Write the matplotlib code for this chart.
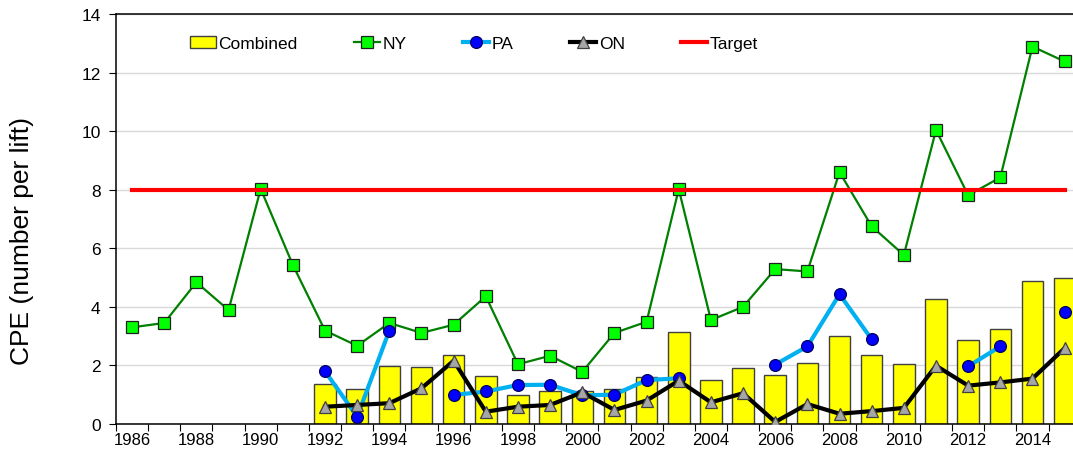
import matplotlib
matplotlib.use('Agg')
import matplotlib.pyplot as plt
import numpy as np

plt.rcParams['font.family'] = ['Liberation Sans', 'DejaVu Sans']

years = np.arange(1986, 2016)
nan = np.nan

combined = [nan, nan, nan, nan, nan, nan,
            1.37, 1.19, 1.99, 1.96, 2.34, 1.63, 1.00, 1.14, 1.13, 1.21,
            1.60, 3.13, 1.49, 1.90, 1.68, 2.07, 3.02, 2.37, 2.06, 4.26,
            2.86, 3.25, 4.88, 4.98]
ny = [3.30, 3.45, 4.84, 3.89, 8.03, 5.43, 3.19, 2.67, 3.45, 3.11,
      3.39, 4.36, 2.04, 2.33, 1.78, 3.11, 3.49, 8.02, 3.55, 4.00,
      5.29, 5.21, 8.60, 6.75, 5.77, 10.04, 7.81, 8.42, 12.89, 12.38]
pa = [nan, nan, nan, nan, nan, nan, 1.80, 0.25, 3.19, nan,
      0.99, 1.11, 1.33, 1.34, 0.98, 1.00, 1.50, 1.56, nan, nan,
      2.03, 2.65, 4.43, 2.89, nan, nan, 1.97, 2.65, nan, 3.83]
on = [nan, nan, nan, nan, nan, nan, 0.59, 0.65, 0.71, 1.22,
      2.16, 0.42, 0.59, 0.65, 1.08, 0.48, 0.80, 1.48, 0.74, 1.05,
      0.07, 0.68, 0.35, 0.44, 0.55, 1.99, 1.31, 1.42, 1.55, 2.59]
target = [8.0] * len(years)

fig = plt.figure(figsize=(10.73, 4.56), dpi=100)
ax = fig.add_axes([0.1081, 0.068, 0.8919, 0.899])

b = ax.bar(years, combined, 0.67, color='#ffff00', edgecolor='#404040',
           linewidth=1.0, label='Combined', zorder=2)
l1, = ax.plot(years, ny, color='#008000', lw=1.6, marker='s', ms=8,
              mfc='#00ff00', mec='#202020', mew=0.9, label='NY', zorder=3)
l2, = ax.plot(years, pa, color='#00b0f0', lw=3, marker='o', ms=8.5,
              mfc='#0000ff', mec='#000060', mew=0.9, label='PA', zorder=4)
l3, = ax.plot(years, on, color='black', lw=3, marker='^', ms=9,
              mfc='#a6a6a6', mec='#404040', mew=0.9, label='ON', zorder=5)
l4, = ax.plot(years, target, color='#ff0000', lw=3, label='Target', zorder=6)

ax.set_xlim(1985.5, 2015.26)
ax.set_ylim(0, 14)
ax.set_yticks(np.arange(0, 15, 2))
ax.yaxis.grid(True, color='#d9d9d9', lw=1, zorder=0)
ax.set_axisbelow(True)

# year boundaries get tick marks, labels sit at the centres
ax.set_xticks(np.arange(1985.5, 2015.5, 1))
ax.set_xticklabels([])
ax.set_xticks(np.arange(1986, 2016, 2), minor=True)
ax.set_xticklabels([str(y) for y in range(1986, 2016, 2)], minor=True)
ax.tick_params(axis='x', which='major', length=5, direction='out')
ax.tick_params(axis='x', which='minor', length=0, pad=6, labelsize=12)
ax.tick_params(axis='y', length=5, direction='out', labelsize=12.5, pad=6)

ax.spines['right'].set_visible(False)
for s in ['left', 'bottom', 'top']:
    ax.spines[s].set_color('black')
    ax.spines[s].set_linewidth(1.1)

ax.set_ylabel('CPE (number per lift)', fontsize=19)
ax.yaxis.set_label_coords(-0.0855, 0.449)

ax.legend(handles=[b, l1, l2, l3, l4], loc='center',
          bbox_to_anchor=(0.374, 0.929), ncol=5,
          frameon=False, fontsize=12.5, handlelength=1.5,
          handletextpad=0.15, columnspacing=3.25)

plt.savefig('out.png', dpi=100)
